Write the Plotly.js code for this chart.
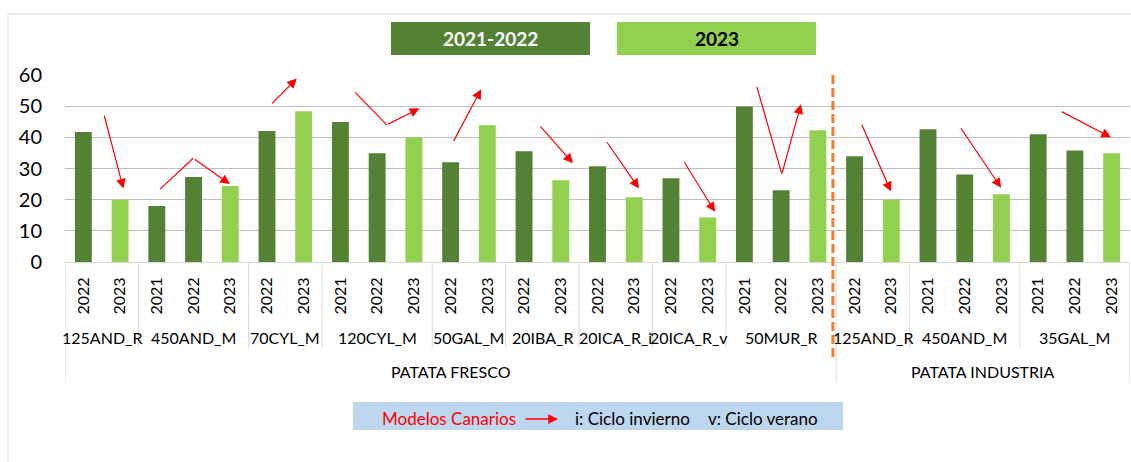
<!DOCTYPE html>
<html>
<head>
<meta charset="utf-8">
<script src="https://cdn.plot.ly/plotly-3.0.1.min.js"></script>
<style>
html,body{margin:0;padding:0;background:#fff;}
#chart{width:1131px;height:462px;}
</style>
</head>
<body>
<div id="chart"></div>
<script>
// ---- DATA ----
const sectors = ['PATATA FRESCO', 'PATATA INDUSTRIA'];
const models = ['125AND_R','450AND_M','70CYL_M','120CYL_M','50GAL_M','20IBA_R','20ICA_R_i','20ICA_R_v','50MUR_R','125AND_R','450AND_M','35GAL_M'];
const modelSector = [0,0,0,0,0,0,0,0,0,1,1,1];
const modelYears = [
  ['2022','2023'],
  ['2021','2022','2023'],
  ['2022','2023'],
  ['2021','2022','2023'],
  ['2022','2023'],
  ['2022','2023'],
  ['2022','2023'],
  ['2022','2023'],
  ['2021','2022','2023'],
  ['2022','2023'],
  ['2021','2022','2023'],
  ['2021','2022','2023']
];
const modelValues = [
  [41.7, 20.0],
  [18.0, 27.3, 24.4],
  [42.0, 48.4],
  [44.9, 34.9, 40.0],
  [32.0, 43.9],
  [35.5, 26.2],
  [30.7, 20.8],
  [26.9, 14.3],
  [49.9, 23.0, 42.3],
  [33.9, 20.0],
  [42.6, 28.1, 21.7],
  [41.0, 35.8, 34.9]
];
const seriesNames = ['2021-2022', '2023'];
const yTicks = [0, 10, 20, 30, 40, 50, 60];
// red trend arrows: polylines in (bar index, value) space, last point is the arrow tip
const trendArrows = [
  [[0.56,47.4],[1.09,23.6]],
  [[2.09,23.4],[2.99,33.3],[3.99,25.0]],
  [[5.10,50.4],[5.81,58.9]],
  [[7.40,54.4],[8.26,44.0],[9.15,49.3]],
  [[10.06,38.3],[10.83,55.4]],
  [[12.41,44.0],[13.33,31.7]],
  [[14.23,38.9],[15.13,23.6]],
  [[16.34,32.5],[17.20,16.1]],
  [[18.34,56.2],[19.02,28.2],[19.54,50.6]],
  [[21.18,44.5],[21.99,22.6]],
  [[23.87,43.4],[24.99,23.8]],
  [[26.60,48.5],[27.98,40.0]]
];
const noteLabel = 'Modelos Canarios';
const noteText1 = 'i: Ciclo invierno';
const noteText2 = 'v: Ciclo verano';

// ---- BUILD ----
const W = 1131, H = 462;
const ML = 65, MR = 1, MT = 75, MB = 200;
const PW = W - ML - MR, PH = H - MT - MB;
const xp = px => (px - ML) / PW;
const yp = py => (H - MB - py) / PH;

const xs = [], ys = [], ticktext = [], isNew = [];
const groupStart = [];
let idx = 0;
models.forEach((m, g) => {
  groupStart.push(idx);
  modelYears[g].forEach((yr, k) => {
    xs.push(idx); ys.push(modelValues[g][k]); ticktext.push(yr);
    isNew.push(yr === '2023');
    idx++;
  });
});
groupStart.push(idx);
const N = idx;

const dark = '#548235', light = '#92D050';
const t1 = {type:'bar', name:seriesNames[0], x:[], y:[], marker:{color:dark}, hoverinfo:'y'};
const t2 = {type:'bar', name:seriesNames[1], x:[], y:[], marker:{color:light}, hoverinfo:'y'};
xs.forEach((x, i) => { const t = isNew[i] ? t2 : t1; t.x.push(x); t.y.push(ys[i]); });
[t1, t2].forEach(t => t.width = t.x.map(() => 0.46));

const FONT = 'Lato, "Open Sans", sans-serif';
const shapes = [];
const annotations = [];

// chart border
shapes.push({type:'rect', xref:'paper', yref:'paper', x0:xp(8), x1:xp(1140), y0:yp(470), y1:yp(14),
  line:{color:'#d9d9d9', width:1}, fillcolor:'rgba(0,0,0,0)', layer:'below'});

// model dividers
for (let g = 0; g <= models.length; g++) {
  const b = groupStart[g] - 0.5;
  const isSectorEdge = g === 0 || g === models.length || modelSector[g] !== modelSector[g-1];
  shapes.push({type:'line', xref:'x', yref:'paper', x0:b, x1:b, y0:0, y1: isSectorEdge ? yp(383) : yp(348),
    line:{color:'#d9d9d9', width:1}});
}
// model labels
models.forEach((m, g) => {
  annotations.push({xref:'x', yref:'paper', x:(groupStart[g] + groupStart[g+1] - 1) / 2, y:yp(337),
    text:m, showarrow:false, font:{family:FONT, size:16, color:'#000'}, xanchor:'center', yanchor:'middle'});
});
// sector labels
sectors.forEach((s, si) => {
  const gs = modelSector.map((v, i) => v === si ? i : -1).filter(i => i >= 0);
  const a = groupStart[gs[0]], b = groupStart[gs[gs.length-1] + 1] - 1;
  annotations.push({xref:'x', yref:'paper', x:(a + b) / 2, y:yp(371),
    text:s, showarrow:false, font:{family:FONT, size:16, color:'#000'}, xanchor:'center', yanchor:'middle'});
});

// orange dashed separator
const sepX = groupStart[modelSector.indexOf(1)] - 0.59;
shapes.push({type:'line', xref:'x', yref:'paper', x0:sepX, x1:sepX, y0:yp(75), y1:yp(360),
  line:{color:'#ED7D31', width:3, dash:'9px,4px'}});

// trend arrows
trendArrows.forEach(pts => {
  for (let i = 0; i < pts.length - 2; i++) {
    shapes.push({type:'line', xref:'x', yref:'y', x0:pts[i][0], y0:pts[i][1], x1:pts[i+1][0], y1:pts[i+1][1],
      line:{color:'#FF0000', width:1.2}});
  }
  const p = pts[pts.length-2], q = pts[pts.length-1];
  annotations.push({xref:'x', yref:'y', axref:'x', ayref:'y', x:q[0], y:q[1], ax:p[0], ay:p[1],
    text:'', showarrow:true, arrowhead:2, arrowsize:1.6, arrowwidth:1.2, arrowcolor:'#FF0000', standoff:0, startstandoff:0});
});

// legend boxes
shapes.push({type:'rect', xref:'paper', yref:'paper', x0:xp(391), x1:xp(590), y0:yp(55), y1:yp(22),
  fillcolor:dark, line:{width:0}});
shapes.push({type:'rect', xref:'paper', yref:'paper', x0:xp(617), x1:xp(816), y0:yp(55), y1:yp(22),
  fillcolor:light, line:{width:0}});
annotations.push({xref:'paper', yref:'paper', x:xp(490.5), y:yp(39), text:'<b>'+seriesNames[0]+'</b>', showarrow:false,
  font:{family:FONT, size:19, color:'#fff'}, xanchor:'center', yanchor:'middle'});
annotations.push({xref:'paper', yref:'paper', x:xp(716.5), y:yp(39), text:'<b>'+seriesNames[1]+'</b>', showarrow:false,
  font:{family:FONT, size:19, color:'#000'}, xanchor:'center', yanchor:'middle'});

// note box
shapes.push({type:'rect', xref:'paper', yref:'paper', x0:xp(353), x1:xp(843), y0:yp(430), y1:yp(402),
  fillcolor:'#BDD7EE', line:{width:0}});
annotations.push({xref:'paper', yref:'paper', x:xp(380), y:yp(418), text:noteLabel, showarrow:false,
  font:{family:FONT, size:17, color:'#FF0000'}, xanchor:'left', yanchor:'middle'});
annotations.push({xref:'paper', yref:'paper', x:xp(558), y:yp(419), ax:xp(524), ay:yp(419), axref:'paper', ayref:'paper',
  text:'', showarrow:true, arrowhead:2, arrowsize:1.3, arrowwidth:1.5, arrowcolor:'#FF0000', standoff:0});
annotations.push({xref:'paper', yref:'paper', x:xp(573), y:yp(418), text:noteText1, showarrow:false,
  font:{family:FONT, size:17, color:'#000'}, xanchor:'left', yanchor:'middle'});
annotations.push({xref:'paper', yref:'paper', x:xp(706), y:yp(418), text:noteText2, showarrow:false,
  font:{family:FONT, size:17, color:'#000'}, xanchor:'left', yanchor:'middle'});

const layout = {
  width:W, height:H,
  margin:{l:ML, r:MR, t:MT, b:MB, pad:0},
  paper_bgcolor:'#fff', plot_bgcolor:'#fff',
  showlegend:false,
  barmode:'overlay',
  font:{family:FONT, color:'#000'},
  xaxis:{
    range:[-0.5, N - 0.5], tickmode:'array', tickvals:xs, ticktext:ticktext,
    tickangle:-90, tickfont:{family:FONT, size:16, color:'#000'},
    showgrid:false, zeroline:false, showline:true, linecolor:'#d9d9d9', linewidth:1,
    ticks:'', ticklabelstandoff:8, fixedrange:true
  },
  yaxis:{
    range:[0, 60], tickmode:'array', tickvals:yTicks,
    tickfont:{family:FONT, size:20, color:'#000'},
    showgrid:true, gridcolor:'#bfbfbf', gridwidth:1, zeroline:false, showline:false,
    ticks:'', ticklabelstandoff:22, fixedrange:true
  },
  shapes:shapes,
  annotations:annotations
};

Plotly.newPlot('chart', [t1, t2], layout, {displayModeBar:false, staticPlot:true});
</script>
</body>
</html>
